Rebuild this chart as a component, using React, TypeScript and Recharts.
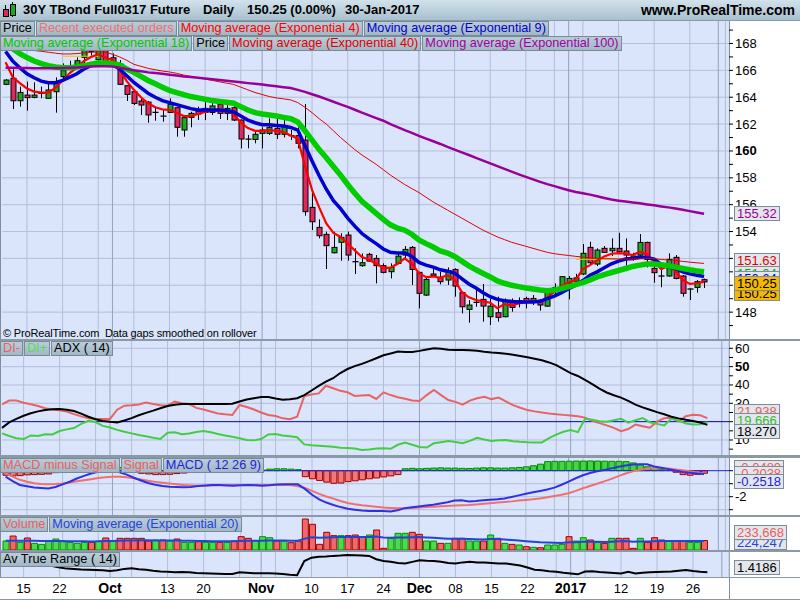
import React from 'react';
import { ComposedChart, Bar, Line, XAxis, YAxis, ReferenceLine, Cell } from 'recharts';

const FONT = "'Liberation Sans', Arial, sans-serif";

// trading days shown on the axis
const sepDays = [12, 13, 14, 15, 16, 19, 20, 21, 22, 23, 26, 27, 28, 29, 30];
const octDays = [3, 4, 5, 6, 7, 10, 11, 12, 13, 14, 17, 18, 19, 20, 21, 24, 25, 26, 27, 28, 31];
const novDays = [1, 2, 3, 4, 7, 8, 9, 10, 11, 14, 15, 16, 17, 18, 21, 22, 23, 24, 25, 28, 29, 30];
const decDays = [1, 2, 5, 6, 7, 8, 9, 12, 13, 14, 15, 16, 19, 20, 21, 22, 23, 27, 28, 29, 30];
const janDays = [3, 4, 5, 6, 9, 10, 11, 12, 13, 16, 17, 18, 19, 20, 23, 24, 25, 26, 27, 30];
const futureDates = ['1/31', '2/1', '2/2'];

const tickLabels: Record<string, string> = {
  '9/15': '15', '9/22': '22', '10/3': 'Oct', '10/13': '13', '10/20': '20', '11/1': 'Nov',
  '11/10': '10', '11/17': '17', '11/24': '24', '12/1': 'Dec', '12/8': '08', '12/15': '15',
  '12/22': '22', '1/3': '2017', '1/12': '12', '1/19': '19', '1/26': '26',
};
const boldLabels = ['Oct', 'Nov', 'Dec', '2017'];
const weekLines = ['9/15', '9/22', '9/29', '10/6', '10/13', '10/20', '10/27', '11/3', '11/10', '11/17', '11/24',
  '12/8', '12/15', '12/22', '12/29', '1/5', '1/12', '1/19', '1/26', '2/2'];
const monthLines = ['10/3', '11/1', '12/1', '1/3', '2/1'];

const opens = [164.96, 165.41, 163.74, 164.16, 163.99, 164.29, 163.92, 164.41, 165.53, 166.33,
  166.35, 166.97, 167.5, 166.8, 167.47, 166.94, 166.47, 164.86, 164.41, 163.72,
  163.64, 162.9, 162.62, 162.87, 163.22, 161.56, 162.5, 162.97, 162.87, 162.87,
  163.47, 162.8, 163.22, 162.3, 160.9, 160.86, 161.31, 161.31, 161.68, 161.24,
  161.15, 161.14, 160.81, 155.8, 154.31, 153.79, 152.42, 153.2, 153.74, 151.78,
  151.46, 152.3, 152.0, 151.46, 151.01, 151.63, 152.25, 152.82, 150.96, 149.27,
  150.84, 150.59, 150.39, 151.18, 149.45, 148.2, 148.75, 148.95, 147.66, 147.96,
  147.66, 148.78, 148.65, 149.02, 148.85, 148.9, 148.45, 149.52, 149.77, 150.14,
  150.3, 150.84, 152.82, 151.58, 152.75, 152.57, 152.75, 152.55, 151.93, 152.25,
  153.19, 151.26, 150.71, 150.69, 152.08, 150.69, 149.74, 149.84, 150.42];
const highs = [165.35, 166.08, 164.79, 165.16, 165.11, 164.79, 165.16, 165.48, 166.52, 166.72,
  166.97, 168.2, 167.9, 167.9, 168.4, 167.27, 166.77, 164.86, 164.54, 163.92,
  163.7, 163.3, 163.05, 163.92, 163.25, 162.68, 162.92, 163.3, 163.67, 163.67,
  163.79, 163.42, 163.67, 162.35, 161.19, 161.43, 161.76, 162.43, 162.43, 162.3,
  161.56, 161.76, 163.49, 157.09, 154.91, 153.99, 153.99, 153.87, 153.99, 152.75,
  152.37, 152.42, 152.25, 151.63, 151.63, 152.37, 152.92, 152.92, 151.01, 150.64,
  151.43, 151.01, 151.33, 151.26, 149.52, 148.9, 149.65, 150.09, 149.02, 149.15,
  149.02, 149.02, 149.1, 149.15, 149.27, 148.95, 149.69, 150.14, 150.69, 150.69,
  150.85, 153.07, 153.24, 152.75, 152.92, 153.49, 153.91, 153.49, 152.42, 153.81,
  153.24, 151.63, 151.43, 152.38, 152.25, 150.76, 149.77, 150.39, 150.5];
const lows = [164.9, 163.12, 163.3, 163.0, 163.92, 163.92, 163.9, 162.85, 165.41, 166.08,
  166.15, 166.4, 167.1, 166.6, 166.47, 166.32, 164.91, 163.72, 163.42, 162.68,
  162.1, 162.25, 162.18, 162.85, 161.06, 161.06, 161.76, 162.3, 162.3, 162.68,
  162.38, 162.3, 162.23, 160.19, 160.19, 160.57, 160.19, 161.19, 160.89, 161.01,
  160.81, 160.19, 155.18, 154.11, 153.49, 151.21, 152.37, 151.83, 151.83, 150.84,
  151.38, 151.75, 150.14, 150.89, 150.51, 151.58, 151.88, 150.02, 148.28, 149.2,
  150.64, 150.07, 150.02, 149.15, 147.91, 147.21, 148.4, 147.29, 147.04, 147.29,
  147.61, 148.03, 148.35, 148.28, 148.53, 148.11, 148.4, 149.35, 149.64, 148.95,
  150.0, 150.76, 151.58, 151.43, 152.45, 152.18, 152.42, 151.18, 151.83, 152.08,
  151.33, 150.19, 149.85, 150.64, 150.44, 149.15, 148.9, 149.45, 149.8];
const closes = [165.28, 163.74, 164.36, 163.97, 164.16, 164.3, 164.54, 165.11, 165.98, 166.37,
  166.72, 167.64, 167.4, 167.5, 166.57, 166.6, 164.96, 164.21, 163.54, 163.42,
  162.68, 162.85, 162.58, 163.47, 161.76, 162.48, 162.8, 162.75, 163.17, 163.35,
  162.8, 163.17, 162.3, 160.89, 160.87, 161.24, 161.56, 161.76, 161.24, 161.86,
  161.12, 160.57, 155.48, 154.73, 153.69, 152.95, 152.82, 153.57, 152.25, 151.73,
  151.68, 151.8, 151.46, 150.96, 151.33, 152.17, 152.67, 151.18, 149.4, 150.44,
  150.69, 150.27, 151.09, 149.94, 148.4, 148.53, 148.71, 148.45, 148.45, 147.61,
  148.85, 148.35, 148.85, 148.78, 149.02, 148.53, 149.64, 149.84, 150.64, 150.51,
  150.55, 152.38, 151.68, 152.62, 152.45, 152.75, 152.5, 152.25, 152.18, 153.19,
  151.93, 150.94, 150.67, 151.93, 150.51, 149.4, 149.7, 150.27, 150.25];

const ema4 = [166.6, 165.5, 165.05, 164.65, 164.42, 164.35, 164.35, 164.7, 165.25, 165.8,
  166.2, 166.7, 167.0, 167.2, 166.95, 166.75, 166.05, 165.2, 164.55, 164.0,
  163.55, 163.25, 163.1, 163.05, 162.85, 162.6, 162.6, 162.75, 162.9, 163.0,
  163.0, 162.95, 162.75, 162.1, 161.7, 161.5, 161.5, 161.55, 161.5, 161.4,
  161.15, 160.9, 158.9, 157.1, 155.8, 154.6, 153.9, 153.6, 153.1, 152.6,
  152.1, 151.9, 151.6, 151.3, 151.3, 151.6, 152.0, 151.6, 150.9, 150.6,
  150.65, 150.55, 150.75, 150.4, 149.5, 149.1, 148.9, 148.8, 148.7, 148.3,
  148.6, 148.5, 148.65, 148.75, 148.85, 148.75, 149.1, 149.5, 149.95, 150.2,
  150.4, 151.2, 151.5, 151.85, 152.15, 152.35, 152.4, 152.35, 152.25, 152.5,
  152.3, 151.75, 151.2, 151.45, 151.05, 150.4, 150.1, 150.15, 150.25];
const ema9 = [167.4, 166.7, 166.2, 165.75, 165.45, 165.2, 165.08, 165.08, 165.25, 165.5,
  165.75, 166.1, 166.35, 166.55, 166.55, 166.45, 166.1, 165.6, 165.1, 164.7,
  164.3, 164.0, 163.75, 163.6, 163.45, 163.3, 163.15, 163.05, 163.05, 163.05,
  163.05, 163.0, 162.9, 162.6, 162.3, 162.1, 161.95, 161.95, 161.9, 161.85,
  161.75, 161.55, 160.4, 159.25, 158.15, 157.15, 156.3, 155.7, 155.0, 154.4,
  153.85, 153.45, 153.1, 152.7, 152.45, 152.4, 152.4, 152.15, 151.7, 151.5,
  151.35, 151.15, 151.05, 150.9, 150.5, 150.1, 149.8, 149.45, 149.15, 148.95,
  148.85, 148.8, 148.75, 148.75, 148.75, 148.8, 149.0, 149.2, 149.45, 149.75,
  150.0, 150.35, 150.75, 151.0, 151.3, 151.6, 151.8, 151.95, 152.0, 152.1,
  152.05, 151.95, 151.55, 151.35, 151.25, 151.0, 150.85, 150.75, 150.65];
const ema18 = [168.0, 167.6, 167.25, 166.95, 166.7, 166.5, 166.35, 166.25, 166.2, 166.2,
  166.25, 166.35, 166.45, 166.55, 166.55, 166.5, 166.4, 166.1, 165.85, 165.55,
  165.25, 165.0, 164.75, 164.5, 164.35, 164.2, 164.05, 163.95, 163.85, 163.75,
  163.68, 163.62, 163.55, 163.3, 163.05, 162.85, 162.75, 162.68, 162.6, 162.5,
  162.4, 162.15, 161.5, 160.8, 160.1, 159.5, 158.85, 158.2, 157.5, 156.85,
  156.25, 155.8, 155.35, 154.9, 154.5, 154.25, 154.1, 153.8, 153.38, 153.1,
  152.85, 152.55, 152.4, 152.15, 151.8, 151.45, 151.15, 150.88, 150.62, 150.32,
  150.15, 150.0, 149.9, 149.8, 149.72, 149.65, 149.6, 149.65, 149.75, 149.9,
  150.05, 150.2, 150.4, 150.62, 150.8, 150.95, 151.1, 151.25, 151.4, 151.5,
  151.58, 151.58, 151.52, 151.45, 151.35, 151.25, 151.15, 151.07, 151.0];
const ema40 = [167.75, 167.7, 167.62, 167.55, 167.48, 167.42, 167.35, 167.28, 167.22, 167.22,
  167.25, 167.3, 167.35, 167.38, 167.35, 167.2, 167.0, 166.75, 166.45, 166.3,
  166.15, 166.05, 165.95, 165.88, 165.78, 165.65, 165.55, 165.45, 165.35, 165.25,
  165.15, 165.05, 164.95, 164.75, 164.55, 164.35, 164.2, 164.05, 163.95, 163.88,
  163.8, 163.6, 163.25, 162.85, 162.4, 162.0, 161.5, 161.0, 160.55, 160.1,
  159.7, 159.35, 159.0, 158.6, 158.2, 157.85, 157.5, 157.2, 156.9, 156.55,
  156.2, 155.9, 155.6, 155.3, 155.0, 154.7, 154.4, 154.1, 153.85, 153.6,
  153.4, 153.2, 153.05, 152.9, 152.75, 152.6, 152.45, 152.35, 152.28, 152.22,
  152.15, 152.1, 152.05, 152.0, 151.98, 151.97, 151.96, 151.95, 151.95, 151.97,
  152.0, 151.98, 151.92, 151.88, 151.85, 151.78, 151.72, 151.67, 151.63];
const ema100 = [166.2, 166.2, 166.18, 166.17, 166.16, 166.15, 166.15, 166.15, 166.17, 166.2,
  166.22, 166.25, 166.28, 166.3, 166.3, 166.28, 166.2, 166.1, 166.0, 165.93,
  165.85, 165.8, 165.74, 165.68, 165.62, 165.55, 165.5, 165.45, 165.4, 165.34,
  165.28, 165.23, 165.17, 165.11, 165.05, 165.0, 164.95, 164.88, 164.82, 164.75,
  164.68, 164.55, 164.4, 164.22, 164.05, 163.86, 163.66, 163.47, 163.28, 163.07,
  162.85, 162.65, 162.45, 162.25, 162.0, 161.78, 161.55, 161.35, 161.12, 160.92,
  160.72, 160.52, 160.3, 160.1, 159.9, 159.7, 159.48, 159.28, 159.08, 158.87,
  158.66, 158.46, 158.26, 158.07, 157.88, 157.7, 157.53, 157.38, 157.22, 157.08,
  156.95, 156.85, 156.75, 156.63, 156.5, 156.38, 156.3, 156.23, 156.17, 156.1,
  156.02, 155.95, 155.87, 155.8, 155.72, 155.62, 155.52, 155.42, 155.32];

// "recent executed orders" levels and the dates they span
const orderLevels = [167.05, 151.93];
const orderSpans = [['9/22', '9/29'], ['1/4', '1/17']];

const adx = [16.6, 19.6, 21.5, 23.2, 24.6, 25.6, 26.3, 26.7, 26.9, 26.5,
  25.8, 24.4, 22.7, 21.3, 20.4, 19.9, 19.6, 20.6, 21.9, 23.5,
  24.8, 26.0, 27.3, 28.5, 29.2, 29.6, 29.6, 29.6, 29.6, 29.6,
  29.6, 29.6, 29.8, 31.0, 32.1, 32.8, 33.4, 33.4, 32.6, 31.9,
  32.2, 32.8, 34.5, 37.0, 39.5, 41.8, 43.7, 46.5, 48.7, 50.3,
  51.5, 53.0, 54.6, 56.2, 57.2, 58.2, 58.0, 58.0, 58.6, 59.4,
  60.0, 59.7, 59.2, 59.1, 59.1, 59.0, 58.6, 58.1, 57.7, 57.4,
  57.0, 56.5, 55.8, 55.1, 54.3, 53.5, 52.3, 50.8, 48.6, 46.5,
  44.9, 42.8, 40.5, 38.0, 35.9, 34.4, 33.1, 31.3, 29.3, 27.8,
  26.5, 25.2, 24.0, 22.7, 21.8, 21.0, 20.4, 19.5, 18.27];
const diMinus = [29.4, 31.5, 31.5, 30.3, 29.5, 28.5, 27.3, 26.6, 26.2, 25.5,
  24.1, 22.9, 21.8, 21.45, 21.45, 21.5, 26.5, 28.7, 28.9, 29.4,
  30.4, 29.6, 28.9, 28.7, 30.9, 30.0, 29.6, 27.5, 26.6, 25.5,
  24.5, 24.0, 23.6, 29.1, 28.0, 26.6, 25.0, 23.6, 23.1, 21.8,
  21.3, 22.7, 34.0, 34.8, 35.4, 39.6, 38.2, 36.8, 36.0, 34.0,
  34.3, 34.5, 32.4, 36.0, 34.5, 33.3, 32.5, 31.6, 31.3, 34.5,
  37.3, 34.5, 31.8, 30.8, 29.3, 31.5, 32.8, 33.6, 32.3, 33.1,
  31.0, 29.0, 27.6, 26.3, 25.6, 25.0, 24.5, 24.1, 23.7, 23.3,
  22.9, 22.2, 20.5, 19.2, 18.0, 16.6, 14.8, 16.0, 18.4, 17.5,
  16.7, 20.0, 21.9, 22.1, 20.0, 23.0, 23.8, 23.5, 21.94];
const diPlus = [13.6, 12.2, 11.0, 10.5, 12.5, 12.2, 13.1, 13.0, 14.9, 15.8,
  16.5, 18.8, 20.5, 19.8, 17.7, 16.8, 15.5, 14.5, 13.6, 12.7,
  12.0, 11.2, 10.6, 14.0, 14.2, 13.1, 13.6, 14.4, 14.9, 14.2,
  13.3, 12.5, 11.8, 10.9, 10.0, 9.8, 10.5, 13.0, 13.3, 12.5,
  12.0, 11.5, 7.6, 7.2, 6.9, 6.6, 6.3, 5.8, 5.6, 5.3,
  4.6, 4.8, 5.3, 5.5, 5.2, 7.4, 8.6, 7.4, 6.2, 5.9,
  8.2, 8.8, 9.4, 8.9, 8.3, 9.5, 11.2, 10.3, 9.5, 9.8,
  10.0, 9.3, 9.0, 8.8, 8.7, 8.7, 11.0, 12.9, 14.5, 15.4,
  14.3, 21.6, 21.0, 20.2, 20.0, 20.8, 21.6, 19.5, 20.8, 22.0,
  19.7, 18.8, 17.9, 21.6, 20.6, 19.0, 18.5, 18.6, 19.67];

const macd = [-0.46, -0.8, -1.1, -1.2, -1.3, -1.33, -1.36, -1.25, -1.05, -0.85,
  -0.6, -0.4, -0.22, -0.08, -0.04, -0.02, -0.12, -0.3, -0.54, -0.75,
  -0.95, -1.08, -1.18, -1.23, -1.26, -1.28, -1.25, -1.18, -1.13, -1.1,
  -1.1, -1.13, -1.15, -1.12, -1.1, -1.12, -1.15, -1.12, -1.07, -1.05,
  -1.05, -1.05, -1.4, -1.85, -2.2, -2.45, -2.64, -2.8, -2.93, -3.0,
  -3.06, -3.1, -3.1, -3.1, -3.13, -3.05, -2.88, -2.82, -2.75, -2.68,
  -2.62, -2.52, -2.42, -2.3, -2.28, -2.36, -2.33, -2.28, -2.24, -2.2,
  -2.14, -2.02, -1.9, -1.78, -1.66, -1.56, -1.45, -1.3, -1.08, -0.84,
  -0.58, -0.35, -0.18, -0.05, 0.06, 0.18, 0.3, 0.4, 0.47, 0.49,
  0.49, 0.33, 0.22, 0.12, 0.02, -0.1, -0.16, -0.22, -0.25];
const signal = [-0.2, -0.45, -0.7, -0.85, -0.97, -1.02, -1.05, -1.03, -0.98, -0.9,
  -0.82, -0.74, -0.65, -0.57, -0.5, -0.47, -0.46, -0.5, -0.58, -0.67,
  -0.78, -0.86, -0.93, -0.99, -1.05, -1.1, -1.13, -1.15, -1.15, -1.14,
  -1.12, -1.1, -1.1, -1.1, -1.1, -1.1, -1.1, -1.1, -1.1, -1.1,
  -1.1, -1.2, -1.32, -1.55, -1.78, -1.98, -2.15, -2.33, -2.48, -2.58,
  -2.66, -2.72, -2.78, -2.84, -2.87, -2.89, -2.88, -2.86, -2.84, -2.8,
  -2.77, -2.74, -2.71, -2.68, -2.66, -2.64, -2.6, -2.55, -2.5, -2.45,
  -2.4, -2.36, -2.3, -2.25, -2.2, -2.13, -2.05, -1.95, -1.85, -1.73,
  -1.55, -1.35, -1.18, -1.0, -0.82, -0.63, -0.42, -0.22, -0.05, 0.08,
  0.16, 0.18, 0.18, 0.16, 0.1, 0.03, -0.05, -0.13, -0.2];
const macdHist = [-0.35, -0.4, -0.38, -0.32, -0.3, -0.28, -0.25, -0.15, 0.0, 0.15,
  0.3, 0.4, 0.5, 0.52, 0.5, 0.42, 0.25, 0.05, -0.1, -0.2,
  -0.25, -0.3, -0.3, -0.28, -0.22, -0.18, -0.12, -0.05, 0.0, 0.03,
  0.05, 0.05, -0.02, -0.03, 0.02, 0.03, 0.05, 0.12, 0.15, 0.15,
  0.12, 0.08, -0.46, -0.62, -0.75, -0.88, -0.97, -0.95, -0.84, -0.78,
  -0.7, -0.62, -0.56, -0.48, -0.4, -0.3, 0.15, 0.18, 0.15, 0.18,
  0.2, 0.22, 0.2, 0.2, 0.18, 0.17, 0.2, 0.22, 0.22, 0.2,
  0.2, 0.22, 0.25, 0.3, 0.38, 0.5, 0.7, 0.72, 0.72, 0.73,
  0.74, 0.74, 0.75, 0.74, 0.73, 0.72, 0.72, 0.7, 0.6, 0.45,
  0.3, 0.2, 0.1, 0.03, -0.12, -0.3, -0.35, -0.28, -0.2];

// volume in thousands of contracts
const volume = [221, 344, 188, 295, 164, 139, 221, 270, 205, 188,
  164, 188, 188, 221, 295, 221, 287, 287, 287, 287,
  221, 246, 246, 221, 270, 188, 188, 205, 188, 188,
  188, 188, 221, 328, 287, 221, 328, 303, 221, 221,
  180, 221, 763, 632, 139, 435, 353, 353, 353, 369,
  328, 369, 492, 41, 287, 410, 410, 435, 386, 221,
  221, 164, 164, 287, 287, 221, 221, 221, 369, 287,
  164, 139, 123, 82, 66, 57, 123, 123, 139, 328,
  221, 303, 246, 188, 164, 287, 287, 287, 41, 287,
  188, 303, 246, 221, 221, 221, 188, 188, 233.668];
const volumeEma = [225, 228, 226, 230, 225, 220, 220, 222, 220, 218,
  215, 214, 212, 214, 222, 222, 228, 232, 236, 240,
  238, 236, 234, 232, 234, 230, 226, 224, 220, 218,
  215, 213, 214, 220, 225, 225, 228, 232, 232, 232,
  228, 226, 280, 315, 300, 310, 315, 318, 320, 322,
  320, 318, 330, 305, 300, 305, 310, 315, 318, 310,
  300, 288, 276, 276, 277, 270, 264, 258, 268, 268,
  258, 245, 232, 218, 204, 190, 184, 178, 174, 188,
  190, 200, 204, 202, 198, 206, 214, 220, 203, 210,
  208, 217, 220, 220, 220, 220, 219, 221, 224.247];
const atr = [2.0, 1.95, 1.9, 1.85, 1.8, 1.72, 1.68, 1.66, 1.6, 1.56,
  1.55, 1.53, 1.52, 1.51, 1.5, 1.47, 1.5, 1.55, 1.57, 1.54,
  1.52, 1.48, 1.45, 1.44, 1.42, 1.43, 1.42, 1.39, 1.38, 1.37,
  1.36, 1.35, 1.35, 1.42, 1.4, 1.38, 1.38, 1.38, 1.37, 1.35,
  1.32, 1.31, 1.85, 1.98, 2.02, 2.03, 2.05, 2.06, 2.08, 2.07,
  2.06, 2.05, 1.92, 1.85, 1.82, 1.78, 1.76, 1.82, 1.88, 1.86,
  1.85, 1.82, 1.78, 1.76, 1.8, 1.82, 1.8, 1.8, 1.78, 1.76,
  1.76, 1.72, 1.68, 1.6, 1.52, 1.5, 1.46, 1.44, 1.4, 1.37,
  1.34, 1.45, 1.46, 1.43, 1.41, 1.39, 1.37, 1.44, 1.37, 1.4,
  1.42, 1.43, 1.44, 1.45, 1.48, 1.51, 1.47, 1.44, 1.4186];

const dates = [
  ...sepDays.map((d) => `9/${d}`),
  ...octDays.map((d) => `10/${d}`),
  ...novDays.map((d) => `11/${d}`),
  ...decDays.map((d) => `12/${d}`),
  ...janDays.map((d) => `1/${d}`),
  ...futureDates,
];

const orderAt = (i: number) => {
  for (let k = 0; k < orderSpans.length; k++) {
    const a = dates.indexOf(orderSpans[k][0]);
    const b = dates.indexOf(orderSpans[k][1]);
    if (i >= a && i <= b) return orderLevels[k];
  }
  return null;
};

const rows = dates.map((d, i) => {
  const has = i < closes.length;
  return {
    d,
    o: has ? opens[i] : null,
    h: has ? highs[i] : null,
    l: has ? lows[i] : null,
    c: has ? closes[i] : null,
    range: has ? [lows[i], highs[i]] : null,
    e4: has ? ema4[i] : null,
    e9: has ? ema9[i] : null,
    e18: has ? ema18[i] : null,
    e40: has ? ema40[i] : null,
    e100: has ? ema100[i] : null,
    ord: has ? orderAt(i) : null,
    adx: has ? adx[i] : null,
    dim: has ? diMinus[i] : null,
    dip: has ? diPlus[i] : null,
    macd: has ? macd[i] : null,
    sig: has ? signal[i] : null,
    hist: has ? macdHist[i] : null,
    vol: has ? volume[i] : null,
    volEma: has ? volumeEma[i] : null,
    atr: has ? atr[i] : null,
    volUp: has ? (i === 0 ? true : closes[i] >= closes[i - 1]) : true,
  };
});

const CandleShape = (props: any) => {
  const { x, y, width, height, payload } = props;
  if (!payload || payload.c == null) return null;
  const top = Math.min(y, y + height);
  const span = Math.abs(height);
  const { o, h, l, c } = payload;
  const rng = h - l;
  const py = (v: number) => (rng > 0 ? top + ((h - v) / rng) * span : top);
  const cx = Math.round(x + width / 2) + 0.5;
  const bTop = py(Math.max(o, c));
  const bBot = py(Math.min(o, c));
  const up = c >= o;
  return (
    <g>
      <line x1={cx} x2={cx} y1={top} y2={top + span} stroke="#000" strokeWidth={1} />
      {bBot - bTop < 1.3 ? (
        <line x1={cx - 3} x2={cx + 3} y1={(bTop + bBot) / 2} y2={(bTop + bBot) / 2} stroke="#000" strokeWidth={1.3} />
      ) : (
        <rect x={cx - 2.5} y={bTop} width={5} height={bBot - bTop} fill={up ? '#1EA81E' : '#E0285A'} stroke="#000" strokeWidth={1} />
      )}
    </g>
  );
};

const AxisTick = (props: any) => {
  const { x, y, payload, labelled, bold } = props;
  const v = payload.value;
  if (!labelled.includes(v)) return null;
  return (
    <text x={x} y={y} dy={4.5} textAnchor="start" fontSize={13} fontWeight={bold.includes(v) ? 700 : 400} fill="#000" fontFamily={FONT}>
      {v}
    </text>
  );
};

const DateTick = (props: any) => {
  const { x, y, payload } = props;
  const label = tickLabels[payload.value];
  if (!label) return null;
  const b = boldLabels.includes(label);
  return (
    <text x={x} y={y + 16} textAnchor="middle" fontSize={b ? 14 : 13} fontWeight={b ? 700 : 400} fill="#000" fontFamily={FONT}>
      {label}
    </text>
  );
};

const gridX = () => [
  ...weekLines.map((d) => <ReferenceLine key={'w' + d} x={d} stroke="#B2BFD8" strokeWidth={1} zIndex={-50} />),
  ...monthLines.map((d) => <ReferenceLine key={'m' + d} x={d} stroke="#93A2C0" strokeWidth={1} zIndex={-50} />),
];
const gridY = (vals: number[]) =>
  vals.map((v) => <ReferenceLine key={'h' + v} y={v} stroke="#B2BFD8" strokeWidth={1} zIndex={-50} />);

const paneBg = 'linear-gradient(to right, #7F8E9D 0px, #7F8E9D 1px, #DAE4FA 1px, #DAE4FA 729px, #7F8E9D 729px, #7F8E9D 730px, #FFFFFF 730px)';

const LegendBox = ({ text, color }: { text: string; color: string }) => (
  <span
    style={{
      display: 'inline-block', height: 13, lineHeight: '13px', padding: '0 2px', marginRight: 1,
      background: 'linear-gradient(#BACCD8, #A2B7C5)', border: '1px solid #788A98', color,
      fontSize: 12.7, whiteSpace: 'nowrap',
    }}
  >
    {text}
  </span>
);

const LegendRow = ({ top, items }: { top: number; items: [string, string][] }) => (
  <div style={{ position: 'absolute', left: 0, top, display: 'flex', fontFamily: FONT }}>
    {items.map(([t, c]) => <LegendBox key={t + c} text={t} color={c} />)}
  </div>
);

const ValueBox = ({ top, text, color, bg = '#E3E7EB' }: { top: number; text: string; color: string; bg?: string }) => (
  <div
    style={{
      position: 'absolute', left: 734, top, height: 13, lineHeight: '13px', padding: '0 2px',
      fontSize: 13, color, background: bg, border: '1px solid #7C8C9B', fontFamily: FONT, whiteSpace: 'nowrap',
    }}
  >
    {text}
  </div>
);

const W = 800;
const M = { top: 0, right: 0, bottom: 0, left: 2 };
const priceTicks = [147, 148, 149, 150, 151, 152, 153, 154, 155, 156, 157, 158, 159, 160, 161, 162, 163, 164, 165, 166, 167, 168, 169];
const priceGrid = [148, 150, 152, 154, 156, 158, 160, 162, 164, 166, 168];
const priceLabels = [148, 154, 156, 158, 160, 162, 164, 166, 168];
const adxTicks = [5, 10, 15, 20, 25, 30, 35, 40, 45, 50, 55, 60];
const adxLabels = [10, 30, 40, 50, 60];
const macdTicks = [-3, -2, -1, 0];

const titleStyle: React.CSSProperties = { position: 'absolute', top: 2, fontSize: 13, fontWeight: 700, color: '#000', whiteSpace: 'nowrap' };

export default function App() {
  return (
    <div style={{ position: 'absolute', left: 0, top: 0, width: 800, height: 600, overflow: 'hidden', background: '#8A99A8', fontFamily: FONT }}>
      {/* title bar */}
      <div style={{ position: 'absolute', left: 0, top: 0, width: 800, height: 20, background: 'linear-gradient(#D2E2EC, #A8C0CE)' }}>
        <div style={{ position: 'absolute', left: 5, top: 5, width: 1, height: 12, background: '#000' }} />
        <div style={{ position: 'absolute', left: 3, top: 9, width: 4, height: 6, background: '#E0285A', border: '1px solid #000' }} />
        <div style={{ position: 'absolute', left: 12, top: 2, width: 1, height: 15, background: '#000' }} />
        <div style={{ position: 'absolute', left: 10, top: 4, width: 4, height: 10, background: '#1EA81E', border: '1px solid #000' }} />
        <div style={{ ...titleStyle, left: 23 }}>30Y TBond Full0317 Future</div>
        <div style={{ ...titleStyle, left: 203 }}>Daily</div>
        <div style={{ ...titleStyle, left: 247 }}>150.25 (0.00%)</div>
        <div style={{ ...titleStyle, left: 345 }}>30-Jan-2017</div>
        <div style={{ ...titleStyle, right: 5, fontSize: 14 }}>www.ProRealTime.com</div>
      </div>

      {/* price pane */}
      <div style={{ position: 'absolute', left: 0, top: 21, width: W, height: 318, background: paneBg }}>
        <ComposedChart width={W} height={318} data={rows} margin={M}>
          <XAxis dataKey="d" hide />
          <YAxis orientation="right" width={71} domain={[146.0, 169.675]} allowDataOverflow ticks={priceTicks} interval={0}
            axisLine={false} tickSize={4} tickLine={{ stroke: '#000' }} tick={<AxisTick labelled={priceLabels} bold={[160]} />} />
          {gridY(priceGrid)}
          {gridX()}
          <Bar dataKey="range" shape={<CandleShape />} isAnimationActive={false} />
          <Line dataKey="ord" stroke="#E8C800" strokeWidth={1} dot={false} activeDot={false} isAnimationActive={false} />
          <Line dataKey="e4" stroke="#FF0000" strokeWidth={2.2} dot={false} activeDot={false} isAnimationActive={false} />
          <Line dataKey="e9" stroke="#0000D0" strokeWidth={3.5} dot={false} activeDot={false} isAnimationActive={false} />
          <Line dataKey="e18" stroke="#00CC00" strokeWidth={5.5} dot={false} activeDot={false} isAnimationActive={false} />
          <Line dataKey="e40" stroke="#E00000" strokeWidth={1} dot={false} activeDot={false} isAnimationActive={false} />
          <Line dataKey="e100" stroke="#990099" strokeWidth={2.5} dot={false} activeDot={false} isAnimationActive={false} />
        </ComposedChart>
        <div style={{ position: 'absolute', left: 3, top: 306, fontSize: 11, letterSpacing: -0.15, color: '#000', whiteSpace: 'pre' }}>
          {'© ProRealTime.com  Data gaps smoothed on rollover'}
        </div>
      </div>
      <LegendRow top={21} items={[['Price', '#000'], ['Recent executed orders', '#F07070'], ['Moving average (Exponential 4)', '#FF0000'], ['Moving average (Exponential 9)', '#0000CC']]} />
      <LegendRow top={36} items={[['Moving average (Exponential 18)', '#00C800'], ['Price', '#000'], ['Moving average (Exponential 40)', '#E00000'], ['Moving average (Exponential 100)', '#A000A0']]} />
      <ValueBox top={206} text="155.32" color="#990099" />
      <ValueBox top={253} text="151.63" color="#E00000" />
      <ValueBox top={266} text="151.04" color="#00B000" />
      <ValueBox top={271} text="150.64" color="#0000CC" />
      <ValueBox top={286} text="150.25" color="#000" bg="#F5B800" />
      <ValueBox top={276} text="150.25" color="#000" bg="#F5B800" />

      {/* ADX pane */}
      <div style={{ position: 'absolute', left: 0, top: 341, width: W, height: 114, background: paneBg }}>
        <ComposedChart width={W} height={114} data={rows} margin={M}>
          <XAxis dataKey="d" hide />
          <YAxis orientation="right" width={71} domain={[1.82, 63.98]} allowDataOverflow ticks={adxTicks} interval={0}
            axisLine={false} tickSize={4} tickLine={{ stroke: '#000' }} tick={<AxisTick labelled={adxLabels} bold={[50]} />} />
          {gridY([10, 30, 40, 50, 60])}
          {gridX()}
          <ReferenceLine y={20} stroke="#0000CC" strokeWidth={1} />
          <Line dataKey="dim" stroke="#E86464" strokeWidth={2} dot={false} activeDot={false} isAnimationActive={false} />
          <Line dataKey="dip" stroke="#44CC44" strokeWidth={2} dot={false} activeDot={false} isAnimationActive={false} />
          <Line dataKey="adx" stroke="#000" strokeWidth={2} dot={false} activeDot={false} isAnimationActive={false} />
        </ComposedChart>
      </div>
      <LegendRow top={341} items={[['DI-', '#F06060'], ['DI+', '#55DD55'], ['ADX ( 14)', '#000']]} />
      <ValueBox top={404} text="21.938" color="#E86060" />
      <ValueBox top={413} text="19.666" color="#33BB33" />
      <ValueBox top={424} text="18.270" color="#000" />

      {/* MACD pane */}
      <div style={{ position: 'absolute', left: 0, top: 458, width: W, height: 57, background: paneBg }}>
        <ComposedChart width={W} height={57} data={rows} margin={M}>
          <XAxis dataKey="d" hide />
          <YAxis orientation="right" width={71} domain={[-3.408, 0.977]} allowDataOverflow ticks={macdTicks} interval={0}
            axisLine={false} tickSize={4} tickLine={{ stroke: '#000' }} tick={<AxisTick labelled={[-2]} bold={[]} />} />
          {gridY([-3, -2, -1])}
          {gridX()}
          <Bar dataKey="hist" barSize={6} isAnimationActive={false}>
            {rows.map((r, i) => (
              <Cell key={i} fill={(r.hist ?? 0) >= 0 ? '#44D444' : '#F07878'} stroke={(r.hist ?? 0) >= 0 ? '#008800' : '#A00000'} strokeWidth={1} />
            ))}
          </Bar>
          <ReferenceLine y={0} stroke="#2222DD" strokeWidth={1} />
          <Line dataKey="sig" stroke="#F07070" strokeWidth={2} dot={false} activeDot={false} isAnimationActive={false} />
          <Line dataKey="macd" stroke="#3030E8" strokeWidth={2} dot={false} activeDot={false} isAnimationActive={false} />
        </ComposedChart>
      </div>
      <LegendRow top={458} items={[['MACD minus Signal', '#E86060'], ['Signal', '#E86060'], ['MACD ( 12 26 9)', '#2222DD']]} />
      <ValueBox top={460} text="-0.0480" color="#E86060" />
      <ValueBox top={466} text="-0.2038" color="#E86060" />
      <ValueBox top={474} text="-0.2518" color="#2222DD" />

      {/* volume pane */}
      <div style={{ position: 'absolute', left: 0, top: 517, width: W, height: 33, background: paneBg }}>
        <ComposedChart width={W} height={33} data={rows} margin={M}>
          <XAxis dataKey="d" hide />
          <YAxis orientation="right" width={71} domain={[0, 812]} allowDataOverflow ticks={[]} axisLine={false} tick={false} />
          {gridX()}
          <Bar dataKey="vol" barSize={6} isAnimationActive={false}>
            {rows.map((r, i) => (
              <Cell key={i} fill={r.volUp ? '#50D850' : '#EE6A6A'} stroke={r.volUp ? '#009000' : '#A00000'} strokeWidth={1} />
            ))}
          </Bar>
          <Line dataKey="volEma" stroke="#2244DD" strokeWidth={2} dot={false} activeDot={false} isAnimationActive={false} />
        </ComposedChart>
      </div>
      <LegendRow top={517} items={[['Volume', '#E86060'], ['Moving average (Exponential 20)', '#2244DD']]} />
      <ValueBox top={535} text="224,247" color="#2244DD" />
      <ValueBox top={525} text="233,668" color="#E86060" />

      {/* ATR pane + date axis */}
      <div style={{ position: 'absolute', left: 0, top: 552, width: W, height: 25, background: paneBg }} />
      <div style={{ position: 'absolute', left: 0, top: 578, width: W, height: 21, background: 'linear-gradient(to right, #FFFFFF 0px, #FFFFFF 729px, #7F8E9D 729px, #7F8E9D 730px, #FFFFFF 730px)' }} />
      <div style={{ position: 'absolute', left: 0, top: 552, width: W, height: 47 }}>
        <ComposedChart width={W} height={47} data={rows} margin={M}>
          <XAxis dataKey="d" height={22} ticks={Object.keys(tickLabels)} interval={0} tickLine={false} axisLine={false}
            tickSize={0} tickMargin={0} tick={<DateTick />} />
          <YAxis orientation="right" width={71} domain={[1.238, 2.199]} allowDataOverflow ticks={[]} axisLine={false} tick={false} />
          {gridX()}
          <Line dataKey="atr" stroke="#000" strokeWidth={2} dot={false} activeDot={false} isAnimationActive={false} />
        </ComposedChart>
      </div>
      <LegendRow top={552} items={[['Av True Range ( 14)', '#000']]} />
      <ValueBox top={560} text="1.4186" color="#000" />
    </div>
  );
}
